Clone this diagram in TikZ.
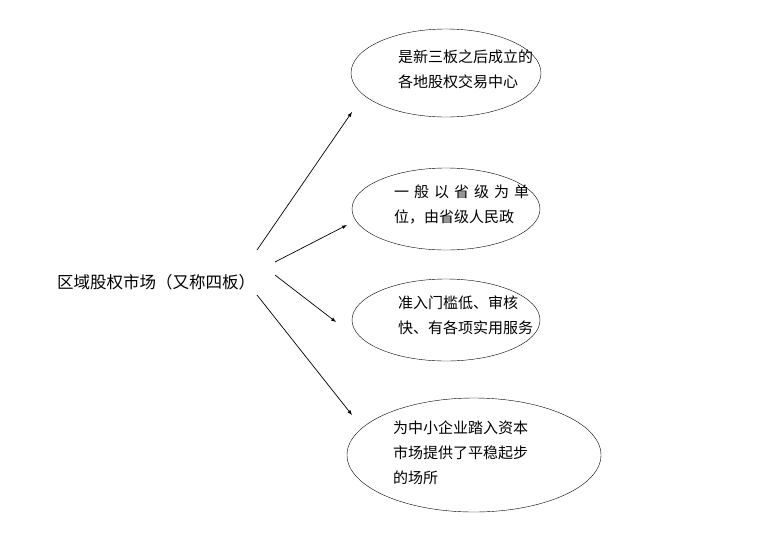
\documentclass[tikz,border=0pt]{standalone}
\usepackage{fontspec}
\newfontfamily\cjk{Noto Sans CJK SC}
\usetikzlibrary{shapes,arrows}
\begin{document}
\begin{tikzpicture}[x=1pt, y=-1pt, >=latex, font=\cjk\fontsize{15}{25}\selectfont]

% ellipse style
\tikzstyle{el} = [
    draw,
    ellipse,
    inner sep=0pt
]

% text style
\tikzstyle{tx} = [
    align=left,
    text width=160pt,
    anchor=west,
    inner sep=0pt
]

\useasboundingbox (0,0) rectangle (758,547);

% Place the nodes.
\node [font=\cjk\fontsize{16.5}{20}\selectfont] (market) at (156,282) {区域股权市场（又称四板）};

\node [el, minimum width=190pt, minimum height=88pt] (e1) at (446,73) {};
\node [tx] at (398,69) {是新三板之后成立的\\各地股权交易中心};

\node [el, minimum width=188pt, minimum height=82pt] (e2) at (446,209) {};
\node [tx] at (394,204) {一\,\,般\,\,以\,\,省\,\,级\,\,为\,\,单\\位，由省级人民政};

\node [el, minimum width=188pt, minimum height=82pt] (e3) at (446,320) {};
\node [tx] at (398,315) {准入门槛低、审核\\快、有各项实用服务};

\node [el, minimum width=254pt, minimum height=114pt] (e4) at (474,455) {};
\node [tx] at (393,453) {为中小企业踏入资本\\市场提供了平稳起步\\的场所};

% Start points.
\coordinate (s1) at (257,250);
\coordinate (s2) at (275,262);
\coordinate (s3) at (275,275);
\coordinate (s4) at (257,295);
\coordinate (t1) at (352,112);
\coordinate (t2) at (347,225);
\coordinate (t3) at (336,322);
\coordinate (t4) at (352,415);

% Connect the nodes.
\draw [->, line width=0.7pt] (s1) -- (t1);
\draw [->, line width=0.7pt] (s2) -- (t2);
\draw [->, line width=0.7pt] (s3) -- (t3);
\draw [->, line width=0.7pt] (s4) -- (t4);

\end{tikzpicture}
\end{document}
